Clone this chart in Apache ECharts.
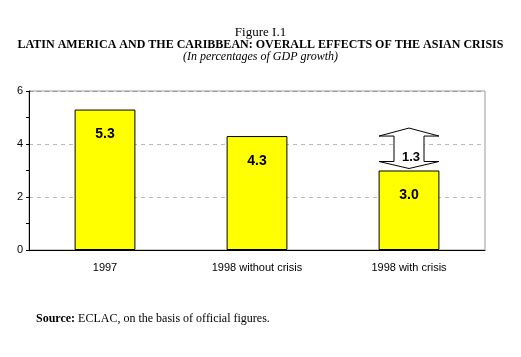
<!DOCTYPE html>
<html><head><meta charset="utf-8">
<script src="https://cdn.jsdelivr.net/npm/echarts@6/dist/echarts.min.js"></script>
<style>html,body{margin:0;padding:0;background:#fff;}#c{width:521px;height:357px;}</style>
</head><body><div id="c"></div>
<script>
const categories = ['1997', '1998 without crisis', '1998 with crisis'];
const growth = [5.3, 4.3, 3.0];
const crisisEffect = [[2, 3.0, 4.3, 1.3]]; // [category index, low, high, difference]
const yTicks = [0, 2, 4, 6];

const chart = echarts.init(document.getElementById('c'));
chart.setOption({
  animation: false,
  backgroundColor: '#fff',
  title: [
    {text: 'Figure I.1', left: 'center', top: 26, padding: 0, textStyle: {fontFamily: 'Liberation Serif', fontWeight: 'normal', fontSize: 13, color: '#000'}},
    {text: 'LATIN AMERICA AND THE CARIBBEAN: OVERALL EFFECTS OF THE ASIAN CRISIS', left: 'center', top: 39, padding: 0, textStyle: {fontFamily: 'Liberation Serif', fontWeight: 'bold', fontSize: 12, color: '#000'}},
    {text: '(In percentages of GDP growth)', left: 'center', top: 51, padding: 0, textStyle: {fontFamily: 'Liberation Serif', fontStyle: 'italic', fontWeight: 'normal', fontSize: 12, color: '#000'}},
    {text: '{b|Source:} ECLAC, on the basis of official figures.', left: 36, top: 313, padding: 0, textStyle: {fontFamily: 'Liberation Serif', fontWeight: 'normal', fontSize: 12, color: '#000', rich: {b: {fontFamily: 'Liberation Serif', fontWeight: 'bold', fontSize: 12, color: '#000'}}}}
  ],
  grid: {left: 29, right: 36, top: 91, bottom: 107, show: true, borderColor: '#999', borderWidth: 1},
  xAxis: {
    type: 'category', data: categories,
    axisLine: {lineStyle: {color: '#000', width: 1}},
    axisTick: {show: false},
    axisLabel: {fontFamily: 'Liberation Sans', fontSize: 11, color: '#000', margin: 12}
  },
  yAxis: {
    type: 'value', min: yTicks[0], max: yTicks[yTicks.length - 1], interval: 2,
    axisLine: {show: true, lineStyle: {color: '#000'}},
    axisTick: {show: true, length: 3, lineStyle: {color: '#000'}},
    minorTick: {show: true, splitNumber: 2, length: 3, lineStyle: {color: '#000'}},
    axisLabel: {fontFamily: 'Liberation Sans', fontSize: 11, color: '#000', margin: 6},
    splitLine: {show: true, lineStyle: {type: [4, 4], color: ['transparent', '#bbb', '#bbb', '#999']}}
  },
  series: [
    {
      type: 'bar', data: growth, barWidth: '40%',
      itemStyle: {color: '#ffff00', borderColor: '#000', borderWidth: 1},
      label: {show: true, position: 'insideTop', distance: 18, fontFamily: 'Liberation Sans', fontWeight: 'bold', fontSize: 14, color: '#000', formatter: p => p.value.toFixed(1)}
    },
    {
      type: 'custom', data: crisisEffect, z: 5,
      renderItem: function (params, api) {
        const x = api.coord([api.value(0), api.value(2)])[0];
        const yHigh = api.coord([api.value(0), api.value(2)])[1];
        const yLow = api.coord([api.value(0), api.value(1)])[1];
        const hw = 30, sw = 15;
        const pts = [
          [x, yHigh - 8], [x + hw, yHigh], [x + sw, yHigh], [x + sw, yLow - 9], [x + hw, yLow - 9],
          [x, yLow - 2], [x - hw, yLow - 9], [x - sw, yLow - 9], [x - sw, yHigh], [x - hw, yHigh]
        ];
        return {
          type: 'group',
          children: [
            {type: 'polygon', shape: {points: pts}, style: {fill: '#fff', stroke: '#000', lineWidth: 1}},
            {type: 'text', x: x + 2, y: (yHigh + yLow) / 2 + 4, style: {text: api.value(3).toFixed(1), fill: '#000', font: 'bold 13px "Liberation Sans"', align: 'center', verticalAlign: 'middle'}}
          ]
        };
      }
    }
  ]
});
</script></body></html>
